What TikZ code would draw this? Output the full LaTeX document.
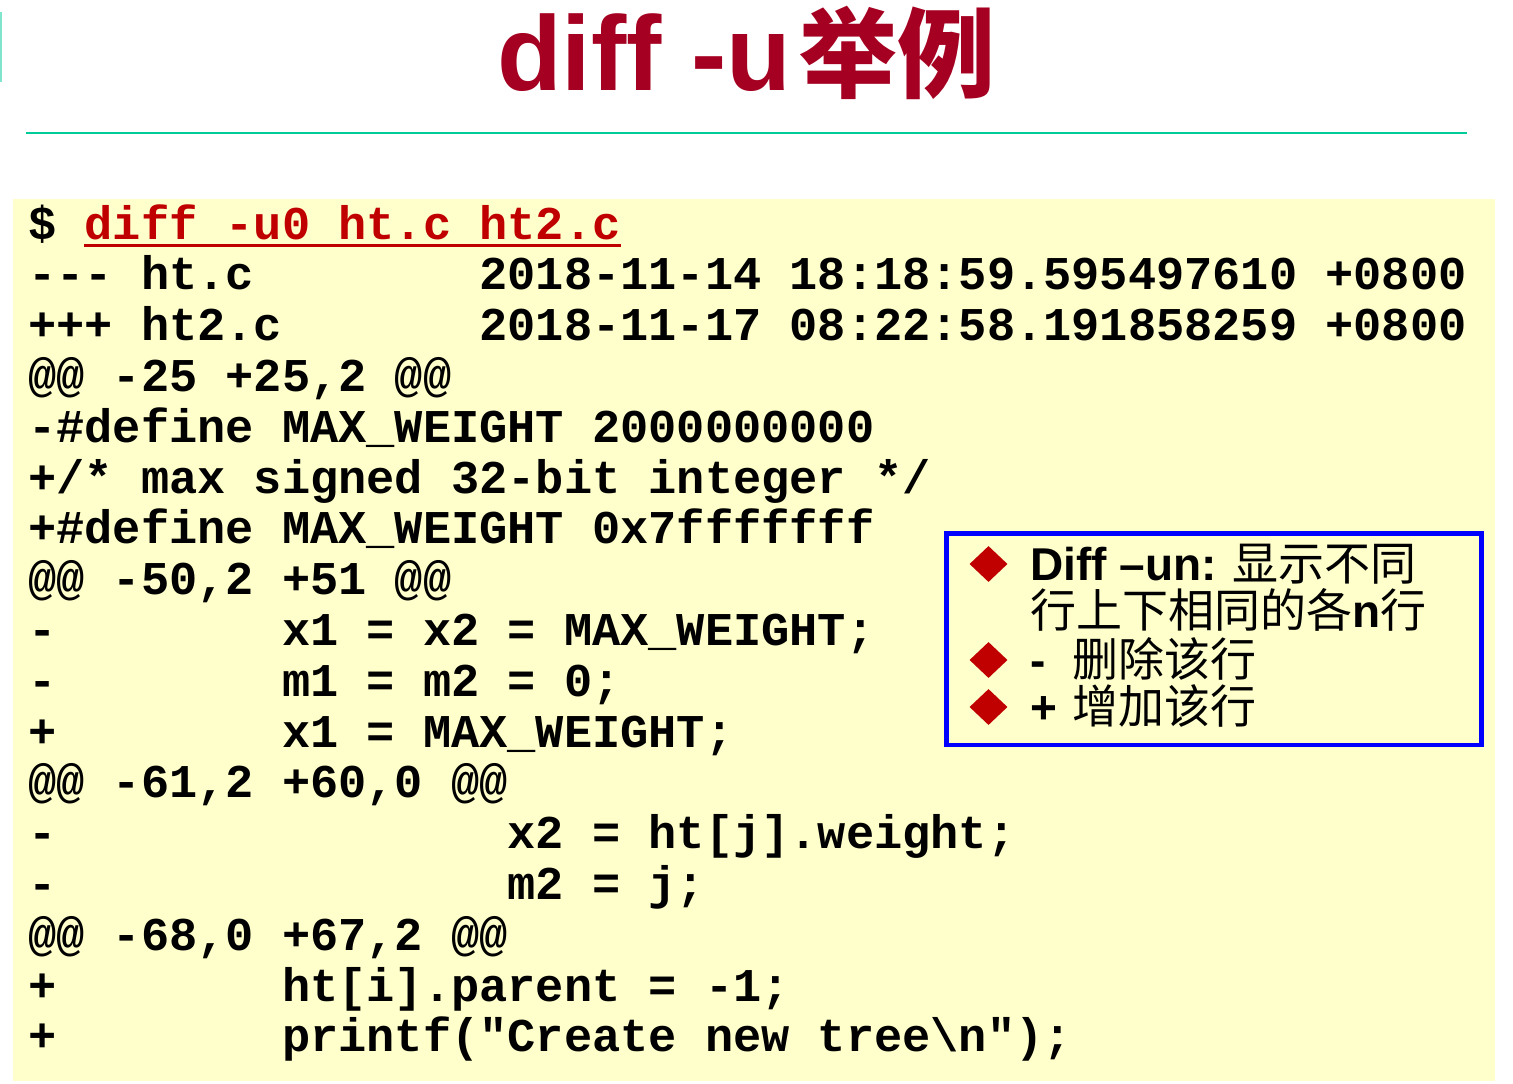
\documentclass[tikz,border=0pt]{standalone}
\usepackage{fontspec}
\usetikzlibrary{shapes.geometric}
\newfontfamily\codefont{Liberation Mono}
\newfontfamily\latfont{Liberation Sans}
\newfontfamily\cjkfont{Noto Sans CJK SC}
\definecolor{bgyellow}{HTML}{FFFFCC}
\definecolor{titlered}{HTML}{A50021}
\definecolor{cmdred}{HTML}{C00000}
\definecolor{teal}{HTML}{00CC99}
\newlength\cw
\setlength\cw{28.2bp}
\newcommand\codefnt{\codefont\bfseries\fontsize{47bp}{51bp}\selectfont}
\newcommand\lat{\latfont\bfseries\fontsize{46bp}{48bp}\selectfont}
\newcommand\cjk{\cjkfont\fontsize{46bp}{48bp}\selectfont}
\tikzset{
  codeline/.style={anchor=base west, inner sep=0pt, font=\codefnt},
  boxline/.style={anchor=base west, inner sep=0pt},
  bullet/.style={diamond, fill=cmdred, inner sep=0pt, minimum width=38bp, minimum height=36bp},
}
\begin{document}
\begin{tikzpicture}[x=1bp,y=-1bp]
\useasboundingbox (0,0) rectangle (1513,1083);
\fill[white] (0,0) rectangle (1513,1083);
% left artifact and title rule
\draw[teal!50, line width=2bp] (1,12) -- (1,82);
\draw[teal, line width=2bp] (26,133) -- (1467,133);
% title
\node[anchor=base west, inner sep=0pt, text=titlered] (title) at (497,90)
  {{\latfont\bfseries\fontsize{106bp}{110bp}\selectfont diff -u}\hspace*{8bp}{\cjkfont\bfseries\fontsize{98bp}{100bp}\selectfont 举例}};
% code background
\fill[bgyellow] (13,199) rectangle (1495,1081);
% code lines
\node[codeline] (l1) at (28,239) {\$};
\node[codeline, text=cmdred] (cmd) at (84.4,239) {diff -u0 ht.c ht2.c};
\draw[cmdred, line width=3bp] ([yshift=-6bp]cmd.base west) -- ([yshift=-6bp]cmd.base east);
\node[codeline] (l2) at (28,289.8) {-{}-{}- ht.c\hspace*{8\cw}2018-11-14 18:18:59.595497610 +0800};
\node[codeline] (l3) at (28,340.6) {+++ ht2.c\hspace*{7\cw}2018-11-17 08:22:58.191858259 +0800};
\node[codeline] (l4) at (28,391.4) {@@ -25 +25,2 @@};
\node[codeline] (l5) at (28,442.2) {-\#define MAX\_WEIGHT 2000000000};
\node[codeline] (l6) at (28,493.0) {+/* max signed 32-bit integer */};
\node[codeline] (l7) at (28,543.8) {+\#define MAX\_WEIGHT 0x7fffffff};
\node[codeline] (l8) at (28,594.6) {@@ -50,2 +51 @@};
\node[codeline] (l9) at (28,645.4) {-\hspace*{8\cw}x1 = x2 = MAX\_WEIGHT;};
\node[codeline] (l10) at (28,696.2) {-\hspace*{8\cw}m1 = m2 = 0;};
\node[codeline] (l11) at (28,747.0) {+\hspace*{8\cw}x1 = MAX\_WEIGHT;};
\node[codeline] (l12) at (28,797.8) {@@ -61,2 +60,0 @@};
\node[codeline] (l13) at (28,848.6) {-\hspace*{16\cw}x2 = ht[j].weight;};
\node[codeline] (l14) at (28,899.4) {-\hspace*{16\cw}m2 = j;};
\node[codeline] (l15) at (28,950.2) {@@ -68,0 +67,2 @@};
\node[codeline] (l16) at (28,1001.0) {+\hspace*{8\cw}ht[i].parent = -1;};
\node[codeline] (l17) at (28,1051.8) {+\hspace*{8\cw}printf("Create new tree\textbackslash n");};
% note box
\draw[blue, line width=4.5bp] (946.5,533.5) rectangle (1481.5,745);
\node[bullet] (b1) at (988.5,564) {};
\node[bullet] (b2) at (988.5,660) {};
\node[bullet] (b3) at (988.5,707) {};
\node[boxline] (t1) at (1030,580) {{\lat Diff –un:\hspace*{16bp}}{\cjk 显示不同}};
\node[boxline] (t2) at (1030,627) {{\cjk 行上下相同的各}{\lat n}{\cjk 行}};
\node[boxline] (t3) at (1030,676) {{\lat -\hspace*{27bp}}{\cjk 删除该行}};
\node[boxline] (t4) at (1030,723) {{\lat +\hspace*{15bp}}{\cjk 增加该行}};
\end{tikzpicture}
\end{document}
